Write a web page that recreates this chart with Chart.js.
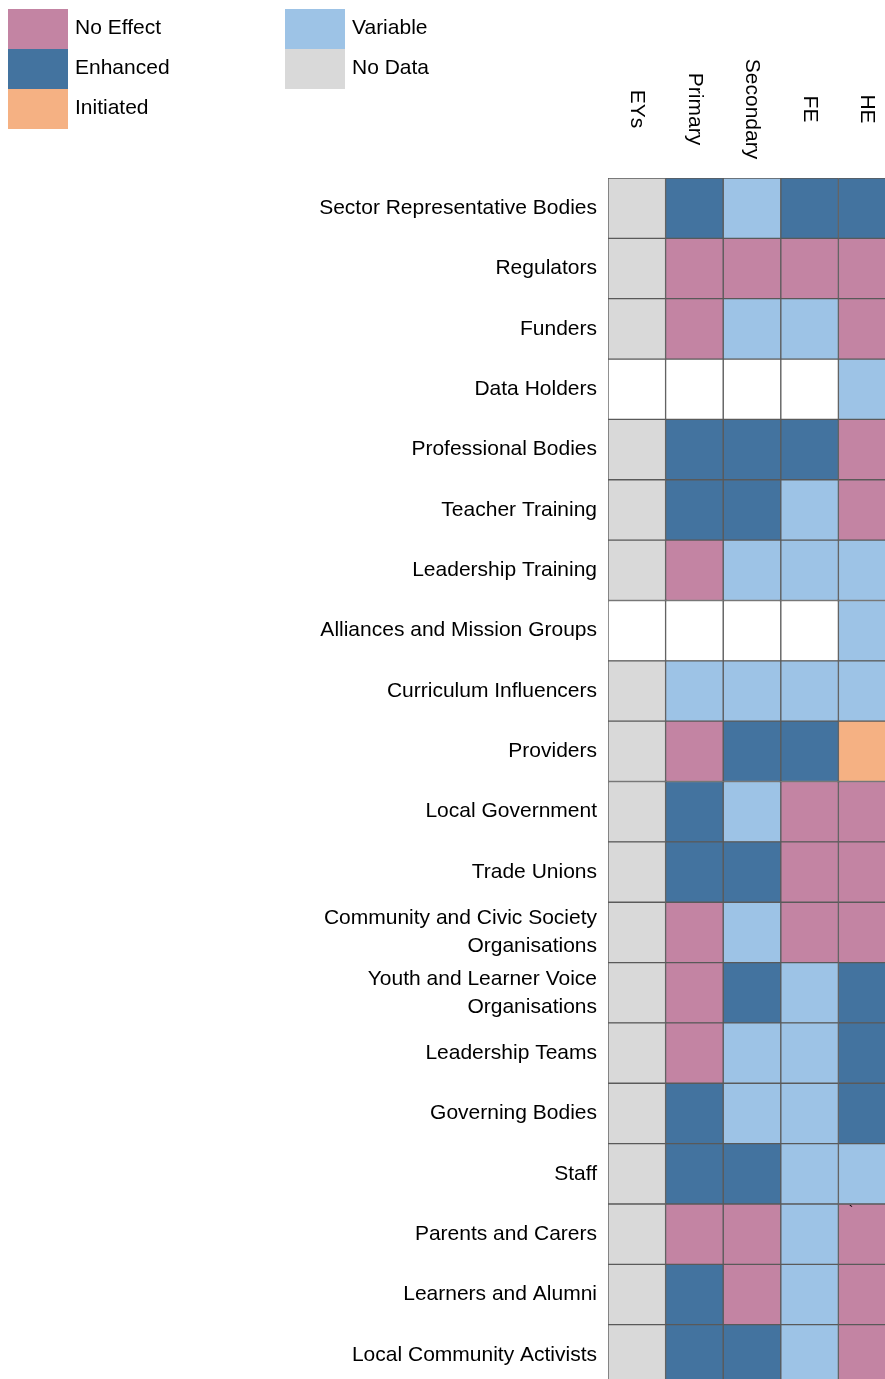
<!DOCTYPE html>
<html>
<head>
<meta charset="utf-8">
<script src="https://cdn.jsdelivr.net/npm/chart.js@4.4.1/dist/chart.umd.min.js"></script>
<style>
  html, body { margin: 0; padding: 0; overflow: hidden; background: #ffffff; }
  #wrap { position: absolute; left: 0; top: 0; width: 900px; height: 1410px; }
</style>
</head>
<body>
<div id="wrap"><canvas id="c" width="900" height="1410"></canvas></div>
<script>
// ---- Data ----
const columns = ['EYs', 'Primary', 'Secondary', 'FE', 'HE'];

const rowLabels = [
  'Sector Representative Bodies',
  'Regulators',
  'Funders',
  'Data Holders',
  'Professional Bodies',
  'Teacher Training',
  'Leadership Training',
  'Alliances and Mission Groups',
  'Curriculum Influencers',
  'Providers',
  'Local Government',
  'Trade Unions',
  ['Community and Civic Society', 'Organisations'],
  ['Youth and Learner Voice', 'Organisations'],
  'Leadership Teams',
  'Governing Bodies',
  'Staff',
  'Parents and Carers',
  'Learners and Alumni',
  'Local Community Activists'
];

// status per row for each column (ND = No Data, NE = No Effect, EN = Enhanced, IN = Initiated, VA = Variable, '' = blank)
const colEYs = ['ND','ND','ND','','ND','ND','ND','','ND','ND','ND','ND','ND','ND','ND','ND','ND','ND','ND','ND'];
const colPrimary = ['EN','NE','NE','','EN','EN','NE','','VA','NE','EN','EN','NE','NE','NE','EN','EN','NE','EN','EN'];
const colSecondary = ['VA','NE','VA','','EN','EN','VA','','VA','EN','VA','EN','VA','EN','VA','VA','EN','NE','NE','EN'];
const colFE = ['EN','NE','VA','','EN','VA','VA','','VA','EN','NE','NE','NE','VA','VA','VA','VA','VA','VA','VA'];
const colHE = ['EN','NE','NE','VA','NE','NE','VA','VA','VA','IN','NE','NE','NE','EN','EN','EN','VA','NE','NE','NE'];

const legendKeys = ['NE','EN','IN','VA','ND'];
const legendLabels = ['No Effect','Enhanced','Initiated','Variable','No Data'];

// ---- Styles ----
const statusColor = {
  NE: '#c384a3',
  EN: '#43739f',
  IN: '#f5b183',
  VA: '#9dc3e6',
  ND: '#d9d9d9',
  '': '#ffffff'
};
const gridColor = '#5a5a5a';
const FONT = '"Liberation Sans", Arial, sans-serif';

const colData = [colEYs, colPrimary, colSecondary, colFE, colHE];

const datasets = columns.map((name, i) => ({
  label: name,
  data: rowLabels.map(() => 1),
  backgroundColor: colData[i].map(s => statusColor[s]),
  borderColor: gridColor,
  borderWidth: 1,
  borderSkipped: false,
  categoryPercentage: 1.0,
  barPercentage: 1.0
}));

const extrasPlugin = {
  id: 'extras',
  afterDraw(chart) {
    const ctx = chart.ctx;
    const xs = chart.scales.x;
    const ys = chart.scales.y;
    ctx.save();
    // Column headers (rotated clockwise)
    ctx.fillStyle = '#000000';
    ctx.font = '21px ' + FONT;
    ctx.textAlign = 'center';
    ctx.textBaseline = 'middle';
    columns.forEach((name, i) => {
      const cx = xs.getPixelForValue(i + 0.5);
      ctx.save();
      ctx.translate(cx, 109);
      ctx.rotate(Math.PI / 2);
      ctx.fillText(name, 0, 0);
      ctx.restore();
    });
    // Legend
    ctx.textAlign = 'left';
    legendKeys.forEach((k, i) => {
      const colIdx = i < 3 ? 0 : 1;
      const rowIdx = i < 3 ? i : i - 3;
      const x = colIdx === 0 ? 8 : 285;
      const y = 9 + rowIdx * 40;
      ctx.fillStyle = statusColor[k];
      ctx.fillRect(x, y, 60, 40);
      ctx.fillStyle = '#000000';
      ctx.fillText(legendLabels[i], x + 67, y + 19);
    });
    // small stray mark in Parents and Carers / HE cell
    const mx = xs.getPixelForValue(4.25);
    const my = ys.getPixelForValue(17) - 22;
    ctx.font = '14px ' + FONT;
    ctx.fillText('`', mx - 4, my);
    ctx.restore();
  }
};

new Chart(document.getElementById('c'), {
  type: 'bar',
  data: { labels: rowLabels, datasets },
  options: {
    indexAxis: 'y',
    responsive: false,
    animation: false,
    devicePixelRatio: 1,
    layout: { padding: { top: 178, left: 0, right: 4, bottom: 6 } },
    plugins: { legend: { display: false }, tooltip: { enabled: false } },
    scales: {
      x: {
        stacked: true,
        min: 0,
        max: 5,
        display: false
      },
      y: {
        stacked: true,
        grid: { display: false, drawTicks: false },
        border: { display: false },
        ticks: {
          color: '#000000',
          padding: 11,
          font: { family: FONT, size: 21, lineHeight: 1.33 }
        },
        afterFit(scale) { scale.width = 608; }
      }
    }
  },
  plugins: [extrasPlugin]
});
</script>
</body>
</html>
